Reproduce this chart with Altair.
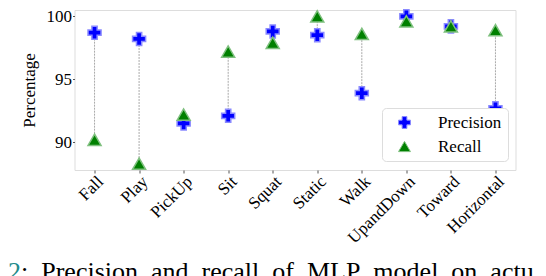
import altair as alt
import pandas as pd

categories = ["Fall", "Play", "PickUp", "Sit", "Squat", "Static", "Walk", "UpandDown", "Toward", "Horizontal"]
precision = [98.7, 98.2, 91.5, 92.1, 98.8, 98.5, 93.9, 100.0, 99.2, 92.7]
recall = [90.2, 88.3, 92.2, 97.2, 97.9, 100.0, 98.6, 99.6, 99.2, 98.9]
y_ticks = [90, 95, 100]
series = ["Precision", "Recall"]
caption_num = "2"
caption_words = ["Precision", "and", "recall", "of", "MLP", "model", "on", "actu"]

FONT = "Liberation Serif"
NB = "\u00a0\u00a0"

df = pd.DataFrame({"category": categories, "Precision": precision, "Recall": recall})

xenc = alt.X("category:N", sort=categories,
             scale=alt.Scale(type="point", padding=0.45),
             axis=alt.Axis(title=None, labelAngle=-45, labelAlign="right", labelBaseline="top",
                           labelFontSize=17, labelFont=FONT, labelColor="black",
                           tickSize=3, tickColor="#555", domain=False, labelPadding=0))
yscale = alt.Scale(domain=[87.8, 100.5], nice=False, zero=False)

rules = alt.Chart(df).mark_rule(color="#aaaaaa", strokeWidth=1, strokeDash=[2, 1]).encode(
    x=xenc,
    y=alt.Y("Precision:Q", scale=yscale,
            axis=alt.Axis(values=y_ticks, title="Percentage", titleFontSize=17, titleFont=FONT,
                          titleFontWeight="normal", titleColor="black", titlePadding=8,
                          labelFontSize=17, labelFont=FONT, labelColor="black",
                          tickSize=2, tickColor="#555", domain=False, grid=False, labelPadding=1)),
    y2="Recall:Q",
)

leg = alt.Legend(title=None, orient="none", legendX=307.5, legendY=98,
                 labelFont=FONT, labelFontSize=17, labelColor="black",
                 padding=6, rowPadding=6, symbolOffset=8, labelOffset=25,
                 symbolSize=140, strokeColor="#dddddd", fillColor="white",
                 cornerRadius=4, symbolStrokeWidth=1)

points = alt.Chart(df).transform_fold(series, as_=["series", "value"]).mark_point(
    filled=True, size=170, strokeWidth=1.5, opacity=1
).encode(
    x=alt.X("category:N", sort=categories),
    y=alt.Y("value:Q", scale=yscale),
    fill=alt.Fill("series:N", sort=series,
                  scale=alt.Scale(domain=series, range=["#0000ff", "#008000"]), legend=leg),
    stroke=alt.Stroke("series:N", sort=series,
                      scale=alt.Scale(domain=series, range=["#8a8aff", "#7fc07f"]), legend=leg),
    shape=alt.Shape("series:N", sort=series,
                    scale=alt.Scale(domain=series, range=["cross", "triangle-up"]), legend=leg),
)

cap_df = pd.DataFrame({"num": [caption_num], "rest": [":" + NB + NB.join(caption_words)]})
cap_num = alt.Chart(cap_df).mark_text(font=FONT, fontSize=26, align="left", baseline="alphabetic",
                                      color="#238b8b").encode(
    text="num:N", x=alt.value(-66.5), y=alt.value(270))
cap_rest = alt.Chart(cap_df).mark_text(font=FONT, fontSize=26, align="left", baseline="alphabetic",
                                       color="black").encode(
    text="rest:N", x=alt.value(-53.5), y=alt.value(270))

chart = alt.layer(rules, points, cap_num, cap_rest).properties(
    width=441, height=160,
    autosize=alt.AutoSizeParams(type="none"),
    padding={"left": 66.5, "top": 2, "right": 22.5, "bottom": 106},
).configure_view(stroke="#8c8c8c", strokeWidth=1.3).configure(font=FONT).configure_axis(
    labelFont=FONT, titleFont=FONT
).configure_legend(labelFont=FONT)

chart.save("out.html", embed_options={"renderer": "svg", "actions": False})
